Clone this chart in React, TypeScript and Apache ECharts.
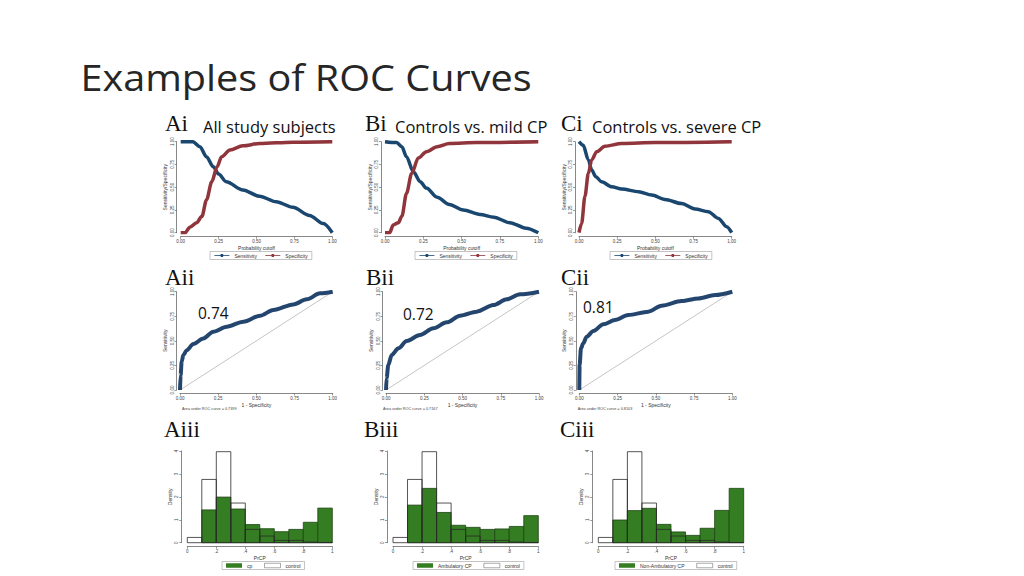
import React, { useEffect, useRef } from "react";
import * as echarts from "echarts";

// ---------- data ----------
const rocTickLabels = ["0.00", "0.25", "0.50", "0.75", "1.00"];
const histTickLabels = ["0", ".2", ".4", ".6", ".8", "1"];
const densityTickLabels = ["0", "1", "2", "3", "4"];

// Row i: sensitivity / specificity vs probability cutoff
const sensA = [[0, 1], [0.08, 1], [0.127, 0.945], [0.17, 0.835], [0.215, 0.725], [0.25, 0.645], [0.3, 0.56], [0.41, 0.47], [0.52, 0.4], [0.63, 0.34], [0.74, 0.28], [0.85, 0.19], [0.94, 0.1], [1, 0]];
const specA = [[0, 0], [0.03, 0], [0.06, 0.06], [0.105, 0.11], [0.14, 0.18], [0.17, 0.36], [0.205, 0.56], [0.24, 0.725], [0.27, 0.835], [0.325, 0.91], [0.41, 0.955], [0.52, 0.98], [0.74, 0.995], [1, 1]];
const sensB = [[0, 1], [0.076, 0.99], [0.11, 0.945], [0.14, 0.835], [0.185, 0.67], [0.23, 0.56], [0.27, 0.49], [0.34, 0.39], [0.42, 0.31], [0.51, 0.25], [0.62, 0.2], [0.71, 0.17], [0.815, 0.11], [0.92, 0.05], [1, 0]];
const specB = [[0, 0], [0.03, 0], [0.054, 0.085], [0.087, 0.11], [0.11, 0.18], [0.14, 0.43], [0.174, 0.65], [0.217, 0.82], [0.27, 0.89], [0.34, 0.945], [0.42, 0.98], [0.6, 0.99], [1, 1]];
const sensC = [[0, 1], [0.028, 0.96], [0.061, 0.8], [0.083, 0.69], [0.11, 0.615], [0.148, 0.56], [0.214, 0.505], [0.28, 0.48], [0.39, 0.45], [0.476, 0.414], [0.563, 0.366], [0.672, 0.32], [0.76, 0.26], [0.847, 0.23], [0.913, 0.157], [0.967, 0.066], [1, 0]];
const specC = [[0, 0], [0.017, 0.1], [0.039, 0.4], [0.061, 0.65], [0.083, 0.8], [0.116, 0.89], [0.17, 0.95], [0.28, 0.98], [0.5, 0.99], [1, 1]];

// Row ii: ROC curves (1 - specificity, sensitivity)
const rocA = [[0, 0], [0.004, 0.15], [0.011, 0.29], [0.022, 0.356], [0.044, 0.405], [0.087, 0.468], [0.153, 0.525], [0.218, 0.593], [0.306, 0.644], [0.415, 0.695], [0.524, 0.756], [0.611, 0.814], [0.742, 0.871], [0.83, 0.922], [0.917, 0.983], [1, 1]];
const rocB = [[0, 0], [0.004, 0.12], [0.015, 0.254], [0.037, 0.356], [0.081, 0.424], [0.135, 0.498], [0.222, 0.559], [0.309, 0.627], [0.397, 0.688], [0.484, 0.756], [0.593, 0.797], [0.702, 0.864], [0.789, 0.922], [0.876, 0.973], [1, 1]];
const rocC = [[0, 0], [0.002, 0.254], [0.011, 0.424], [0.026, 0.475], [0.048, 0.542], [0.092, 0.6], [0.157, 0.668], [0.233, 0.712], [0.32, 0.763], [0.451, 0.797], [0.538, 0.858], [0.669, 0.905], [0.778, 0.932], [0.887, 0.966], [1, 1]];
const diagonal = [[0, 0], [1, 1]];
const aucLabels = ["0.74", "0.72", "0.81"];
const aucNotes = ["Area under ROC curve = 0.7399", "Area under ROC curve = 0.7167", "Area under ROC curve = 0.8103"];

// Row iii: histograms of PrCP (bins of width 0.1)
const binStarts = [0, 0.1, 0.2, 0.3, 0.4, 0.5, 0.6, 0.7, 0.8, 0.9];
const controlDensity = [0.23, 2.76, 3.97, 1.73, 0.58, 0.29, 0.1, 0.1, 0.03, 0.01];
const cpDensity = [0, 1.43, 1.99, 1.47, 0.79, 0.61, 0.48, 0.58, 0.89, 1.51];
const ambDensity = [0, 1.64, 2.37, 1.32, 0.76, 0.67, 0.58, 0.6, 0.71, 1.18];
const nonAmbDensity = [0, 0.99, 1.4, 1.5, 0.8, 0.47, 0.32, 0.63, 1.41, 2.37];
const histGroupNames = ["cp", "Ambulatory CP", "Non-Ambulatory CP"];

const panelLetters = ["A", "B", "C"];
const subtitles = ["All study subjects", "Controls vs. mild CP", "Controls vs. severe CP"];

// ---------- layout / style ----------
const FONT = "Liberation Sans";
const SLIDE_FONT = "'Open Sans'";
const NAVY = "#1a476f";
const MAROON = "#90353b";
const GREEN = "#347d22";
const GREEN_EDGE = "#1d4413";
const AXIS = "#555";

const topGrids = [
  { left: 180.7, width: 151.6 },
  { left: 385, width: 153.3 },
  { left: 579, width: 152.7 },
];
const midGrids = [
  { left: 180, width: 152.7 },
  { left: 386, width: 153 },
  { left: 579.3, width: 153 },
];
const botGrids = [
  { left: 187.3, width: 145 },
  { left: 393, width: 145.3 },
  { left: 598.3, width: 145.4 },
];

const toBins = (d: number[]) => binStarts.map((b, i) => [b, +(b + 0.1).toFixed(1), d[i]]);

function axisBase(gridIndex: number, offset: number) {
  return {
    gridIndex,
    type: "value" as const,
    offset,
    axisLine: { show: true, onZero: false, lineStyle: { color: AXIS, width: 0.7 } },
    axisTick: { show: true, length: 2, lineStyle: { color: AXIS, width: 0.6 } },
    splitLine: { show: false },
    nameLocation: "middle" as const,
    nameTextStyle: { fontFamily: FONT, fontSize: 5, color: "#333" },
  };
}

export default function App() {
  const ref = useRef<HTMLDivElement>(null);

  useEffect(() => {
    if (!ref.current) return;
    const chart = echarts.init(ref.current, undefined, { renderer: "svg" });

    const grid: any[] = [];
    const xAxis: any[] = [];
    const yAxis: any[] = [];
    const series: any[] = [];
    const legend: any[] = [];
    const graphic: any[] = [];

    const rocFmt = (v: number) => rocTickLabels[Math.round(v / 0.25)] ?? "";
    const histFmt = (v: number) => histTickLabels[Math.round(v / 0.2)] ?? "";
    const densFmt = (v: number) => densityTickLabels[Math.round(v)] ?? "";

    const labelStyle = { fontFamily: FONT, fontSize: 4.5, color: "#444" };
    const panelFont = "23px 'Liberation Serif'";

    // Row 1
    const sens = [sensA, sensB, sensC];
    const spec = [specA, specB, specC];
    const legendLeftTop = [210, 415, 610];
    topGrids.forEach((g, i) => {
      const gi = grid.length;
      grid.push({ left: g.left, width: g.width, top: 141.7, height: 91 });
      xAxis.push({ ...axisBase(gi, 4), min: 0, max: 1, interval: 0.25, name: "Probability cutoff", nameGap: 9, axisLabel: { ...labelStyle, margin: 2, formatter: rocFmt } });
      yAxis.push({ ...axisBase(gi, 4), min: 0, max: 1, interval: 0.25, name: "Sensitivity/Specificity", nameGap: 9, axisLabel: { ...labelStyle, margin: 2, rotate: 90, formatter: rocFmt } });
      series.push({ name: "Sensitivity", type: "line", xAxisIndex: gi, yAxisIndex: gi, data: sens[i], smooth: 0.3, smoothMonotone: "x", symbol: "circle", symbolSize: 3, showSymbol: false, color: NAVY, lineStyle: { width: 3.5, color: NAVY } });
      series.push({ name: "Specificity", type: "line", xAxisIndex: gi, yAxisIndex: gi, data: spec[i], smooth: 0.3, smoothMonotone: "x", symbol: "circle", symbolSize: 3, showSymbol: false, color: MAROON, lineStyle: { width: 3.5, color: MAROON } });
      legend.push({ left: legendLeftTop[i], top: 251.5, data: ["Sensitivity", "Specificity"], selectedMode: false, itemWidth: 15, itemHeight: 4, itemGap: 8, padding: [1.5, 4], borderColor: "#888", borderWidth: 0.5, lineStyle: { width: 0.8 }, textStyle: { fontFamily: FONT, fontSize: 5, color: "#333" } });
      graphic.push({ type: "text", x: [165, 365, 561][i], y: 123, style: { text: panelLetters[i] + "i", font: panelFont, fill: "#111", verticalAlign: "middle" } });
      graphic.push({ type: "text", x: [203, 395, 592][i], y: 126, style: { text: subtitles[i], font: `16.5px ${SLIDE_FONT}`, fill: "#111", verticalAlign: "middle" } });
    });

    // Row 2
    const rocs = [rocA, rocB, rocC];
    midGrids.forEach((g, i) => {
      const gi = grid.length;
      grid.push({ left: g.left, width: g.width, top: 291.7, height: 98.3 });
      xAxis.push({ ...axisBase(gi, 3.5), min: 0, max: 1, interval: 0.25, name: "1 - Specificity", nameGap: 9, axisLabel: { ...labelStyle, margin: 2, formatter: rocFmt } });
      yAxis.push({ ...axisBase(gi, 3.5), min: 0, max: 1, interval: 0.25, name: "Sensitivity", nameGap: 9, axisLabel: { ...labelStyle, margin: 2, rotate: 90, formatter: rocFmt } });
      series.push({ name: "Reference", type: "line", xAxisIndex: gi, yAxisIndex: gi, data: diagonal, showSymbol: false, lineStyle: { width: 0.5, color: "#8a8a8a" }, z: 1 });
      series.push({ name: "ROC", type: "line", xAxisIndex: gi, yAxisIndex: gi, data: rocs[i], smooth: 0.3, smoothMonotone: "x", showSymbol: false, lineStyle: { width: 4, color: "#24466e" }, z: 2 });
      graphic.push({ type: "text", x: [165, 366, 561][i], y: 277.5, style: { text: panelLetters[i] + "ii", font: panelFont, fill: "#111", verticalAlign: "middle" } });
      graphic.push({ type: "text", x: [198, 403, 583][i], y: [313, 314, 307][i], style: { text: aucLabels[i], font: `15.5px ${SLIDE_FONT}`, fill: "#111", verticalAlign: "middle" } });
      graphic.push({ type: "text", x: [182, 383, 577.7][i], y: 409, style: { text: aucNotes[i], font: `3.8px '${FONT}'`, fill: "#444", verticalAlign: "middle" } });
    });

    // Row 3
    const groups = [cpDensity, ambDensity, nonAmbDensity];
    const histLegendLeft = [222, 413, 615];
    const makeRender = (fill: string, stroke: string) => (params: any, api: any) => {
      const x0 = api.value(0);
      const x1 = api.value(1);
      const y = api.value(2);
      if (!(y > 0)) return null;
      const p0 = api.coord([x0, y]);
      const p1 = api.coord([x1, 0]);
      return {
        type: "rect",
        shape: { x: p0[0], y: p0[1], width: p1[0] - p0[0], height: p1[1] - p0[1] },
        style: { fill, stroke, lineWidth: 0.8 },
      };
    };
    botGrids.forEach((g, i) => {
      const gi = grid.length;
      grid.push({ left: g.left, width: g.width, top: 451, height: 91.7 });
      xAxis.push({ ...axisBase(gi, 4), min: 0, max: 1, interval: 0.2, name: "PrCP", nameGap: 9, axisLabel: { ...labelStyle, margin: 2, formatter: histFmt } });
      yAxis.push({ ...axisBase(gi, 6), min: 0, max: 4, interval: 1, name: "Density", nameGap: 9, axisLabel: { ...labelStyle, margin: 2, rotate: 90, formatter: densFmt } });
      series.push({ name: histGroupNames[i], type: "custom", xAxisIndex: gi, yAxisIndex: gi, data: toBins(groups[i]), encode: { x: [0, 1], y: 2 }, itemStyle: { color: GREEN, borderColor: GREEN_EDGE, borderWidth: 0.6 }, renderItem: makeRender(GREEN, GREEN_EDGE), z: 2 });
      series.push({ name: "control", type: "custom", xAxisIndex: gi, yAxisIndex: gi, data: toBins(controlDensity), encode: { x: [0, 1], y: 2 }, itemStyle: { color: "#ffffff", borderColor: "#555", borderWidth: 0.5 }, renderItem: makeRender("none", "#2a2a2a"), z: 3 });
      legend.push({
        left: histLegendLeft[i],
        top: 561.5,
        data: [
          { name: histGroupNames[i], icon: "rect", itemStyle: { borderWidth: 0 } },
          { name: "control", icon: "rect", itemStyle: { color: "#ffffff", borderColor: "#555", borderWidth: 0.5 } },
        ],
        selectedMode: false,
        itemWidth: 16,
        itemHeight: 4.5,
        itemGap: 12,
        padding: [1.5, 4],
        borderColor: "#888",
        borderWidth: 0.5,
        textStyle: { fontFamily: FONT, fontSize: 5, color: "#333" },
      });
      graphic.push({ type: "text", x: [164, 364, 560][i], y: 429.5, style: { text: panelLetters[i] + "iii", font: panelFont, fill: "#111", verticalAlign: "middle" } });
    });

    graphic.push({ type: "text", x: 80.5, y: 77, scaleX: 1.1, style: { text: "Examples of ROC Curves", font: `36px ${SLIDE_FONT}`, fill: "#262626", verticalAlign: "middle" } });

    chart.setOption({
      animation: false,
      backgroundColor: "#ffffff",
      grid,
      xAxis,
      yAxis,
      series,
      legend,
      graphic,
    });

    return () => chart.dispose();
  }, []);

  return <div ref={ref} style={{ position: "fixed", left: 0, top: 0, width: 1024, height: 576 }} />;
}
